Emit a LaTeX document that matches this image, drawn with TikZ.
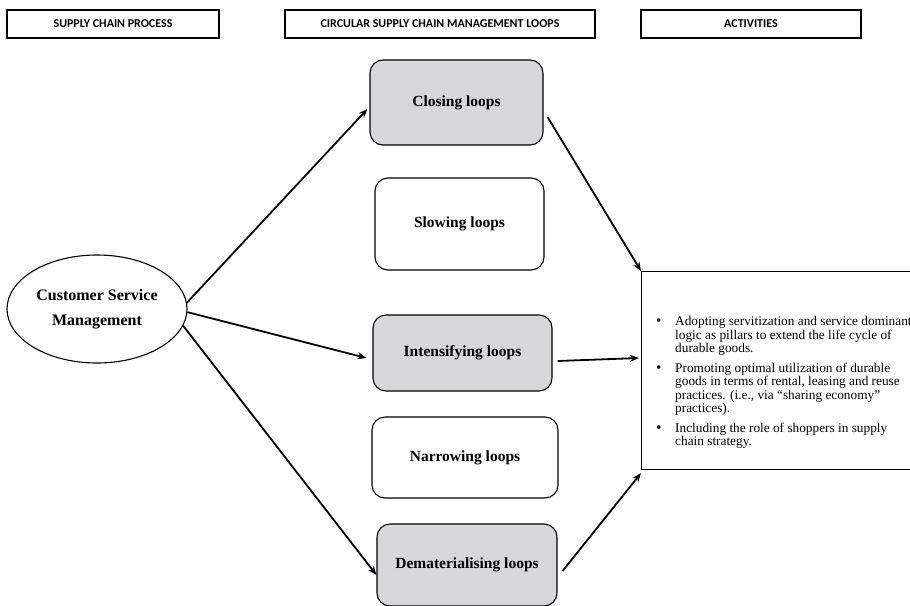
\documentclass[tikz,border=0pt]{standalone}
\usepackage{fontspec}
\setmainfont{Liberation Serif}
\newfontfamily\hdrfont{Carlito}
\usetikzlibrary{shapes.geometric,arrows.meta,calc,shadows}
\definecolor{boxgray}{RGB}{215,215,217}
\tikzset{
  hdrbox/.style={draw, line width=1.2pt, minimum height=28pt, inner sep=0pt, fill=white,
    drop shadow={shadow xshift=1.2pt, shadow yshift=-1.2pt, fill=black!60, opacity=1},
    font=\hdrfont\bfseries\fontsize{12}{14}\selectfont},
  loopbox/.style={draw, line width=1.1pt, rounded corners=13pt, inner sep=0pt,
    font=\bfseries\fontsize{15.5}{18}\selectfont},
  graybox/.style={loopbox, fill=boxgray},
  whitebox/.style={loopbox, fill=white},
  conn/.style={line width=1.8pt, -{Stealth[length=9pt,width=7pt]}},
}
\begin{document}
\begin{tikzpicture}[x=1pt,y=-1pt]
\useasboundingbox (0,0) rectangle (910,605);
\clip (0,0) rectangle (910,605);
% headers
\node[hdrbox, minimum width=212pt] (h1) at (113,24) {SUPPLY CHAIN PROCESS};
\node[hdrbox, minimum width=310pt] (h2) at (440,24) {CIRCULAR SUPPLY CHAIN MANAGEMENT LOOPS};
\node[hdrbox, minimum width=220pt] (h3) at (751,24) {ACTIVITIES};
% ellipse
\node[draw, ellipse, line width=1.1pt, minimum width=180pt, minimum height=108pt, inner sep=0pt,
  align=center, font=\bfseries\fontsize{16}{25}\selectfont] (csm) at (97,309)
  {Customer Service\\Management};
% loops
\node[graybox, minimum width=173pt, minimum height=85pt] (closing) at (456.5,102.5) {Closing loops};
\node[whitebox, minimum width=169pt, minimum height=92pt] (slowing) at (459.5,224) {Slowing loops};
\node[graybox, minimum width=179pt, minimum height=76pt] (intens) at (462.5,353) {Intensifying loops};
\node[whitebox, minimum width=186pt, minimum height=81pt] (narrow) at (465,457.5) {Narrowing loops};
\node[graybox, minimum width=180pt, minimum height=82pt] (demat) at (467,565) {Dematerialising loops};
% activities box
\node[draw, line width=1.1pt, anchor=north west, minimum width=300pt, minimum height=198pt, inner sep=0pt]
  (act) at (641,271) {};
\node[anchor=north west, inner sep=0pt, font=\fontsize{13.3}{13.2}\selectfont] (list) at (656,316.5) {%
\begin{tabular}{@{}l@{}l@{}}
\makebox[19pt][l]{\fontsize{15}{13}\selectfont\textbullet} & Adopting servitization and service dominant\\
 & logic as pillars to extend the life cycle of\\
 & durable goods.\\[6.8pt]
\makebox[19pt][l]{\fontsize{15}{13}\selectfont\textbullet} & Promoting optimal utilization of durable\\
 & goods in terms of rental, leasing and reuse\\
 & practices. (i.e., via ``sharing economy''\\
 & practices).\\[6.8pt]
\makebox[19pt][l]{\fontsize{15}{13}\selectfont\textbullet} & Including the role of shoppers in supply\\
 & chain strategy.
\end{tabular}};
% connectors
\draw[conn] (csm.4) -- ([xshift=-2pt,yshift=-6.5pt]closing.west);
\draw[conn] (csm.-2) -- ([xshift=-6pt,yshift=-5pt]intens.west);
\draw[conn] (csm.-11) -- ([yshift=-10pt]demat.west);
\draw[conn] ([xshift=4pt,yshift=-14.5pt]closing.east) -- (act.north west);
\draw[conn] ([xshift=5pt,yshift=-8pt]intens.east) -- ([xshift=-2pt,yshift=-87pt]act.north west);
\draw[conn] ([xshift=5pt,yshift=-6pt]demat.east) -- ([yshift=-3pt]act.south west);
\end{tikzpicture}
\end{document}
